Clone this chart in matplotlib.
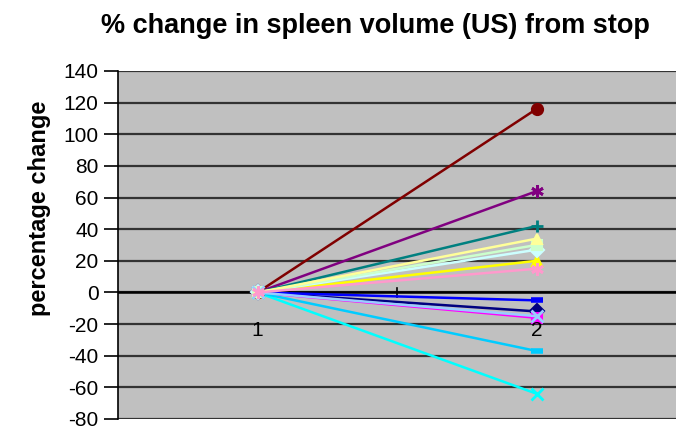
import numpy as np
import matplotlib.pyplot as plt

plt.rcParams['font.family'] = ['Liberation Sans', 'DejaVu Sans']
plt.rcParams['axes.unicode_minus'] = False

# % change in spleen volume for each patient, at visit 1 and visit 2
visits = [1, 2]
visit1 = [0, 0, 0, 0, 0, 0, 0, 0, 0, 0, 0, 0, 0, 0]
visit2 = [-12, -16, 20, -64, 64, 116, 42, -5, -37, 27, 30, 34, -15, 15]

colors = ["#000080", "#FF00FF", "#FFFF00", "#00FFFF", "#800080", "#800000",
          "#008080", "#0000FF", "#00CCFF", "#CCFFFF", "#CCFFCC", "#FFFF99",
          "#99CCFF", "#FF99CC"]
asterisk = (6, 2, 0)
markers = ["D", "s", "^", "x", asterisk, "o", "+", "_", "_",
           "D", "s", "^", "x", asterisk]

fig = plt.figure(figsize=(6.76, 4.30), dpi=100)
ax = fig.add_axes([118 / 676, 11 / 430, 558 / 676, 348 / 430])
ax.set_facecolor("#C0C0C0")

for i in range(len(visit2)):
    m = markers[i]
    ms = 7
    mew = 1.5
    if m == "_":
        ms, mew = 8, 4
    elif m in ("x", "+", asterisk):
        ms, mew = 9, 2
    elif m == "o":
        ms = 8
    ax.plot(visits, [visit1[i], visit2[i]], color=colors[i], lw=1.8,
            marker=m, markersize=ms, markeredgewidth=mew,
            markeredgecolor=colors[i], zorder=3)

ax.set_xlim(0.5, 2.5)
ax.set_ylim(-80, 140)
ax.set_yticks(np.arange(-80, 141, 20))
ax.tick_params(axis="y", direction="out", length=10, width=1.2,
               labelsize=15, pad=4)
ax.set_xticks([])
for y in np.arange(-80, 141, 20):
    ax.axhline(y, color="#333333", lw=1.6, zorder=1)

# category axis crossing at zero
ax.axhline(0, color="black", lw=1.8, zorder=2)
ax.plot([1.5, 1.5], [-3, 3], color="black", lw=1.2, zorder=2)
for v in visits:
    ax.text(v, -24, str(v), ha="center", va="center", fontsize=15, zorder=4)

ax.spines["right"].set_visible(False)
ax.spines["top"].set_visible(False)
ax.spines["bottom"].set_visible(False)
ax.spines["left"].set_linewidth(1.2)

fig.text(0.555, 0.94, "% change in spleen volume (US) from stop",
         ha="center", va="center", fontsize=19.5, fontweight="bold")
fig.text(0.058, 0.515, "percentage change", rotation=90,
         ha="center", va="center", fontsize=17, fontweight="bold")

fig.savefig("out.png", dpi=100)
